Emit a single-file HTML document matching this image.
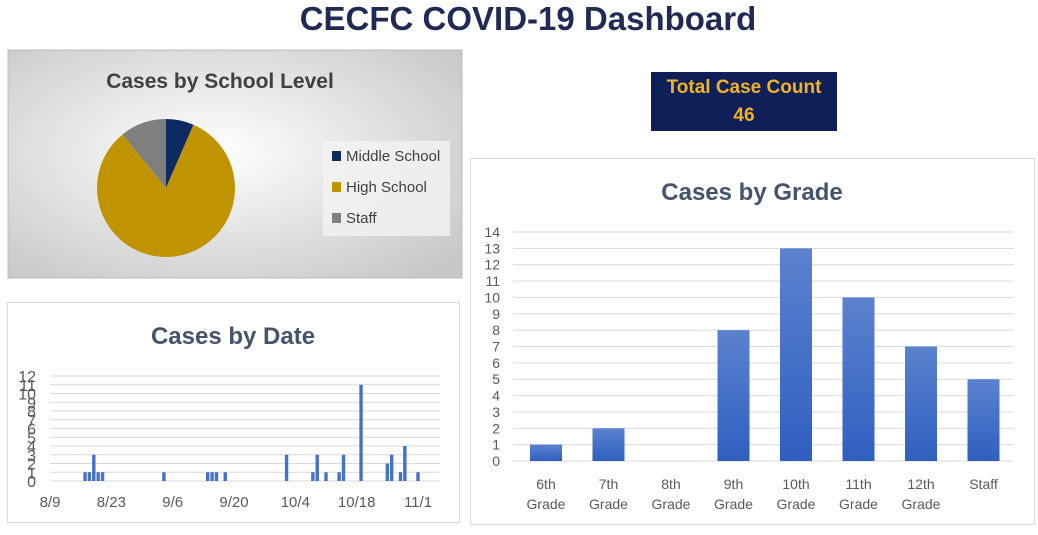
<!DOCTYPE html>
<html><head><meta charset="utf-8"><style>
body{margin:0;width:1038px;height:530px;background:#fff;font-family:"Liberation Sans",sans-serif;overflow:hidden;position:relative}
</style></head><body>
<svg width="1038" height="530" xmlns="http://www.w3.org/2000/svg" id="root">
<defs>
<radialGradient id="pieBg" cx="45%" cy="45%" r="70%"><stop offset="0" stop-color="#ffffff"/><stop offset="1" stop-color="#c8c8c8"/></radialGradient>
<linearGradient id="barG" x1="0" y1="0" x2="0" y2="1"><stop offset="0" stop-color="#5b82cf"/><stop offset="1" stop-color="#2f5fbf"/></linearGradient>
</defs>
<text x="528" y="30" text-anchor="middle" font-size="33" font-weight="bold" fill="#1f2a55">CECFC COVID-19 Dashboard</text>
<g>
<rect x="8" y="50" width="454" height="228" fill="url(#pieBg)" stroke="#bbb"/>
<text x="220" y="88" text-anchor="middle" font-size="21" font-weight="bold" fill="#404040">Cases by School Level</text>
<g id="pie"></g>
<rect x="323" y="141" width="127" height="95" fill="#f2f2f2" opacity="0.8"/>
<g id="pieLegend"></g>
</g>
<g>
<rect x="651" y="72" width="186" height="59" fill="#0f2058"/>
<text x="744" y="93" text-anchor="middle" font-size="19" font-weight="bold" fill="#f0b323">Total Case Count</text>
<text x="744" y="121" text-anchor="middle" font-size="19" font-weight="bold" fill="#f0b323">46</text>
</g>
<g>
<rect x="7.5" y="302.5" width="452" height="220" fill="#fff" stroke="#d9d9d9"/>
<text x="233" y="344" text-anchor="middle" font-size="24" font-weight="bold" fill="#44546a">Cases by Date</text>
<g id="dateChart"></g>
</g>
<g>
<rect x="470.5" y="158.5" width="564" height="366" fill="#fff" stroke="#d9d9d9"/>
<text x="752" y="200" text-anchor="middle" font-size="24" font-weight="bold" fill="#44546a">Cases by Grade</text>
<g id="gradeChart"></g>
</g>
</svg>
<script>
const pieLabels=["Middle School","High School","Staff"];
const pieValues=[3,38,5];
const pieColors=["#0f2a63","#c09400","#7f7f7f"];
const dateTicks=["8/9","8/23","9/6","9/20","10/4","10/18","11/1"];
const dateDays=[8,9,10,11,12,26,36,37,38,40,54,60,61,63,66,67,71,77,78,80,81,84];
const dateCases=[1,1,3,1,1,1,1,1,1,1,3,1,3,1,1,3,11,2,3,1,4,1];
const gradeCats=[["6th","Grade"],["7th","Grade"],["8th","Grade"],["9th","Grade"],["10th","Grade"],["11th","Grade"],["12th","Grade"],["Staff",""]];
const gradeValues=[1,2,0,8,13,10,7,5];
const NS="http://www.w3.org/2000/svg";
function mk(p,t,a,txt){const e=document.createElementNS(NS,t);for(const k in a)e.setAttribute(k,a[k]);if(txt!==undefined)e.textContent=txt;p.appendChild(e);return e;}
// pie
(function(){
const g=document.getElementById('pie');const cx=166,cy=188,r=69;
const tot=pieValues.reduce((a,b)=>a+b,0);let a0=0;
pieValues.forEach((v,i)=>{const a1=a0+v/tot*2*Math.PI;
const x0=cx+r*Math.sin(a0),y0=cy-r*Math.cos(a0),x1=cx+r*Math.sin(a1),y1=cy-r*Math.cos(a1);
const p=mk(g,'path',{d:`M${cx},${cy}L${x0},${y0}A${r},${r} 0 ${a1-a0>Math.PI?1:0} 1 ${x1},${y1}Z`,fill:pieColors[i]});


a0=a1;});
const L=document.getElementById('pieLegend');
pieLabels.forEach((l,i)=>{const y=157+i*31;
const e=mk(L,'g',{});


mk(e,'rect',{x:332,y:y-6,width:9,height:10,fill:pieColors[i]});
mk(e,'text',{x:346,y:y+4,'font-size':15,fill:'#404040'},l);});
})();
// date chart
(function(){
const g=document.getElementById('dateChart');
const x0=50,x1=418,days=84,y0=481,y1=376,ymax=12;
const X=d=>x0+(x1-x0)*d/days, Y=v=>y0-(y0-y1)*v/ymax;
for(let v=0;v<=ymax;v++){mk(g,'line',{x1:x0,x2:440,y1:Y(v),y2:Y(v),stroke:'#d9d9d9'});
const t=mk(g,'text',{x:36,y:Y(v)+6,'text-anchor':'end','font-size':16,fill:'#595959'},v);

}
dateTicks.forEach((s,i)=>{const t=mk(g,'text',{x:X(i*14),y:507,'text-anchor':'middle','font-size':15,fill:'#595959'},s);

});
dateDays.forEach((d,i)=>{const b=mk(g,'rect',{x:X(d)-1.7,y:Y(dateCases[i]),width:3.4,height:y0-Y(dateCases[i]),fill:'#4472c4'});

});
})();
// grade chart
(function(){
const g=document.getElementById('gradeChart');
const x0=513,x1=1014,y0=461,y1=232,ymax=14;
const Y=v=>y0-(y0-y1)*v/ymax, step=62.5;
for(let v=0;v<=ymax;v++){mk(g,'line',{x1:x0,x2:x1,y1:Y(v),y2:Y(v),stroke:'#d9d9d9'});
const t=mk(g,'text',{x:500,y:Y(v)+5,'text-anchor':'end','font-size':14,fill:'#595959'},v);

}
gradeCats.forEach((c,i)=>{const cx=546+i*step;const v=gradeValues[i];
const b=mk(g,'rect',{x:cx-16,y:Y(v),width:32,height:y0-Y(v),fill:'url(#barG)'});


const t=mk(g,'text',{x:cx,y:489,'text-anchor':'middle','font-size':14,fill:'#595959'},c[0]);


if(c[1])mk(g,'text',{x:cx,y:509,'text-anchor':'middle','font-size':14,fill:'#595959'},c[1]);});
})();
</script>
</body></html>
